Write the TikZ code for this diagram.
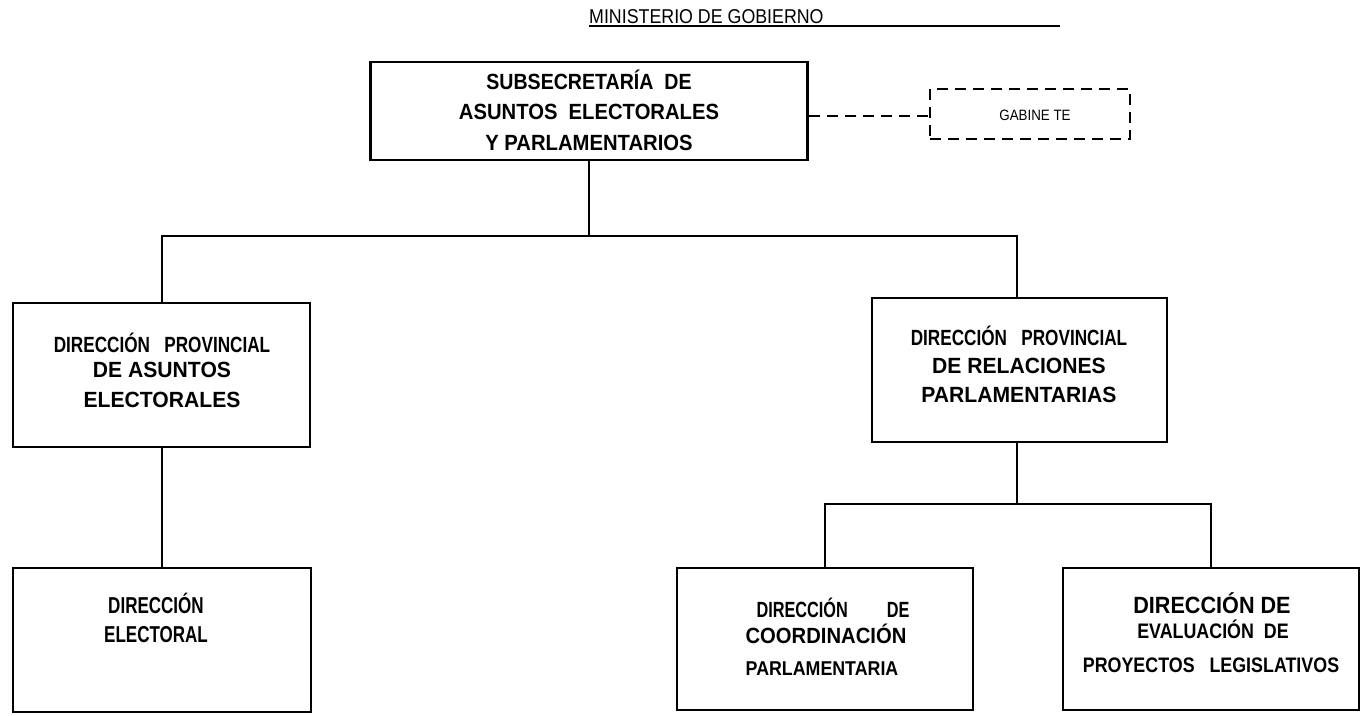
\documentclass[tikz,border=0pt]{standalone}
\usepackage{fontspec}
\setmainfont{Liberation Sans}
\newfontfamily\sC[FakeStretch=0.74]{Liberation Sans}
\newfontfamily\sD[FakeStretch=0.78]{Liberation Sans}
\newfontfamily\sE[FakeStretch=0.85]{Liberation Sans}
\newfontfamily\sF[FakeStretch=0.89]{Liberation Sans}
\newfontfamily\sG[FakeStretch=0.92]{Liberation Sans}
\newfontfamily\sH[FakeStretch=0.96]{Liberation Sans}
\begin{document}
\begin{tikzpicture}[x=1pt,y=-1pt,
  box/.style={draw, line width=2.2pt, inner sep=0pt},
  dbox/.style={draw, line width=2.2pt, dash pattern=on 11pt off 7pt, inner sep=0pt},
  ln/.style={anchor=base, inner sep=0pt},
  conn/.style={line width=1.2pt},
  dconn/.style={line width=2.2pt, dash pattern=on 11pt off 7pt}]
\useasboundingbox (0,0) rectangle (1371,715);
% title
\node[anchor=base west, inner sep=0pt, font=\sF\fontsize{20}{22}\selectfont] (title) at (589,23) {MINISTERIO DE GOBIERNO};
\coordinate (tend) at (1060,26);
\draw[line width=1.8pt] (title.base west) ++(0,3) -- (tend);
% boxes
\node[box, minimum width=437pt, minimum height=98pt] (top) at (589,111) {};
\node[dbox, minimum width=200pt, minimum height=50pt] (gab) at (1030,114) {};
\node[box, minimum width=297pt, minimum height=144pt] (dpae) at (161.5,375) {};
\node[box, minimum width=295pt, minimum height=144pt] (dprp) at (1019.5,370) {};
\node[box, minimum width=298pt, minimum height=144pt] (de) at (162,640) {};
\node[box, minimum width=296pt, minimum height=142pt] (dcp) at (825,639) {};
\node[box, minimum width=296pt, minimum height=142pt] (depl) at (1211,639) {};
% labels: top
\node[ln, font=\sF\bfseries\fontsize{22}{24}\selectfont] (t1) at (589,89) {SUBSECRETAR\'IA\ \ DE};
\node[ln, font=\sG\bfseries\fontsize{22}{24}\selectfont] (t2) at (589,119) {ASUNTOS\ \ ELECTORALES};
\node[ln, font=\sG\bfseries\fontsize{22}{24}\selectfont] (t3) at (589,150) {Y PARLAMENTARIOS};
\node[ln, font=\sF\fontsize{15}{17}\selectfont] (g1) at (1035,120) {GABINE TE};
% DPAE
\node[ln, font=\sD\bfseries\fontsize{22}{24}\selectfont] (a1) at (162,352) {DIRECCI\'ON\ \ \ PROVINCIAL};
\node[ln, font=\sH\bfseries\fontsize{22}{24}\selectfont] (a2) at (162,377) {DE ASUNTOS};
\node[ln, font=\sH\bfseries\fontsize{22}{24}\selectfont] (a3) at (162,407) {ELECTORALES};
% DPRP
\node[ln, font=\sD\bfseries\fontsize{22}{24}\selectfont] (b1) at (1019,345) {DIRECCI\'ON\ \ \ PROVINCIAL};
\node[ln, font=\sH\bfseries\fontsize{22}{24}\selectfont] (b2) at (1019,373) {DE RELACIONES};
\node[ln, font=\sH\bfseries\fontsize{22}{24}\selectfont] (b3) at (1019,402) {PARLAMENTARIAS};
% DE
\node[ln, font=\sC\bfseries\fontsize{23}{25}\selectfont] (c1) at (156,613) {DIRECCI\'ON};
\node[ln, font=\sC\bfseries\fontsize{23}{25}\selectfont] (c2) at (156,642) {ELECTORAL};
% DCP
\node[ln, font=\sC\bfseries\fontsize{22}{24}\selectfont] (d1) at (833,617) {\hbox to 153pt{DIRECCI\'ON\hfill DE}};
\node[ln, font=\sG\bfseries\fontsize{22}{24}\selectfont] (d2) at (826,643) {COORDINACI\'ON};
\node[ln, font=\sF\bfseries\fontsize{20}{22}\selectfont] (d3) at (822,675) {PARLAMENTARIA};
% DEPL
\node[ln, font=\sG\bfseries\fontsize{23.5}{25}\selectfont] (e1) at (1212,613) {DIRECCI\'ON DE};
\node[ln, font=\sE\bfseries\fontsize{21}{23}\selectfont] (e2) at (1213,638) {EVALUACI\'ON\ \ DE};
\node[ln, font=\sE\bfseries\fontsize{21}{23}\selectfont] (e3) at (1211,672) {PROYECTOS\ \ \ LEGISLATIVOS};
% connectors
\coordinate (j1) at (589,236);
\coordinate (jl) at (162,236);
\coordinate (jr) at (1017,236);
\coordinate (j2) at (1017,504);
\coordinate (jc) at (825,504);
\coordinate (jd) at (1211,504);
\draw[conn] (top.south) -- (j1);
\draw[conn] (jl |- dpae.north) -- (jl) -- (jr) -- (jr |- dprp.north);
\draw[conn] (jl |- dpae.south) -- (jl |- de.north);
\draw[conn] (j2 |- dprp.south) -- (j2);
\draw[conn] (jc |- dcp.north) -- (jc) -- (jd) -- (jd |- depl.north);
\coordinate (dl) at (0,116);
\draw[dconn] (top.east |- dl) -- (gab.west |- dl);
\end{tikzpicture}
\end{document}
